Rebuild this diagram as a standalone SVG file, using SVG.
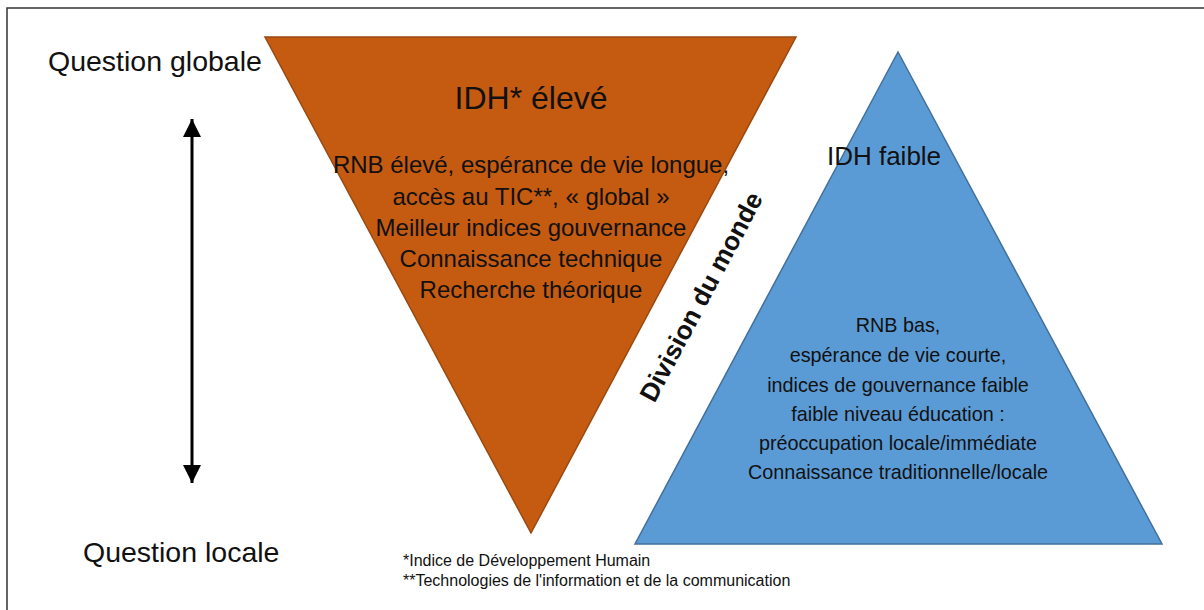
<svg xmlns="http://www.w3.org/2000/svg" width="1204" height="610" viewBox="0 0 1204 610">
  <defs>
    <style>
      .t { font-family: "Liberation Sans", Arial, sans-serif; fill: #111; }
      .side { font-size: 28.5px; }
      .head { font-size: 32px; text-anchor: middle; }
      .head2 { font-size: 26px; text-anchor: middle; }
      .body { font-size: 24px; text-anchor: middle; }
      .body2 { font-size: 19.8px; text-anchor: middle; }
      .foot { font-size: 16px; }
      .div { font-size: 26px; font-weight: bold; text-anchor: middle; }
    </style>
    <marker id="ah" viewBox="0 0 10 10" refX="10" refY="5" markerWidth="6" markerHeight="6" markerUnits="strokeWidth" orient="auto-start-reverse">
      <path d="M0,0 L10,5 L0,10 Z" fill="#000"/>
    </marker>
  </defs>
  <rect width="1204" height="610" fill="#fff"/>
  <path d="M7,610 L7,8 L1204,8" fill="none" stroke="#333" stroke-width="1.5"/>

  <g id="labels">
    <text class="t side" x="48" y="71">Question globale</text>
    <text class="t side" x="83" y="562">Question locale</text>
  </g>

  <g id="connectors">
    <line x1="192" y1="119" x2="192" y2="483" stroke="#000" stroke-width="3" marker-start="url(#ah)" marker-end="url(#ah)"/>
  </g>

  <g id="idh-eleve">
    <polygon points="265,37 796,37 531,533" fill="#C55A11" stroke="#9A4A10" stroke-width="1.5"/>
    <text class="t head" x="531" y="109">IDH* élevé</text>
    <text class="t body" x="531" y="173">RNB élevé, espérance de vie longue,</text>
    <text class="t body" x="531" y="205">accès au TIC**, « global »</text>
    <text class="t body" x="531" y="236">Meilleur indices gouvernance</text>
    <text class="t body" x="531" y="267">Connaissance technique</text>
    <text class="t body" x="531" y="298">Recherche théorique</text>
  </g>

  <g id="idh-faible">
    <polygon points="898,52 1162,544 635,544" fill="#5B9BD5" stroke="#41719C" stroke-width="1.5"/>
    <text class="t head2" x="884" y="165">IDH faible</text>
    <text class="t body2" x="898" y="332">RNB bas,</text>
    <text class="t body2" x="898" y="362">espérance de vie courte,</text>
    <text class="t body2" x="898" y="392">indices de gouvernance faible</text>
    <text class="t body2" x="898" y="421">faible niveau éducation :</text>
    <text class="t body2" x="898" y="450">préoccupation locale/immédiate</text>
    <text class="t body2" x="898" y="479">Connaissance traditionnelle/locale</text>
  </g>

  <g id="division">
    <text class="t div" transform="translate(709,301) rotate(-62)">Division du monde</text>
  </g>

  <g id="footnotes">
    <text class="t foot" x="403" y="566">*Indice de Développement Humain</text>
    <text class="t foot" x="403" y="586">**Technologies de l'information et de la communication</text>
  </g>
</svg>
